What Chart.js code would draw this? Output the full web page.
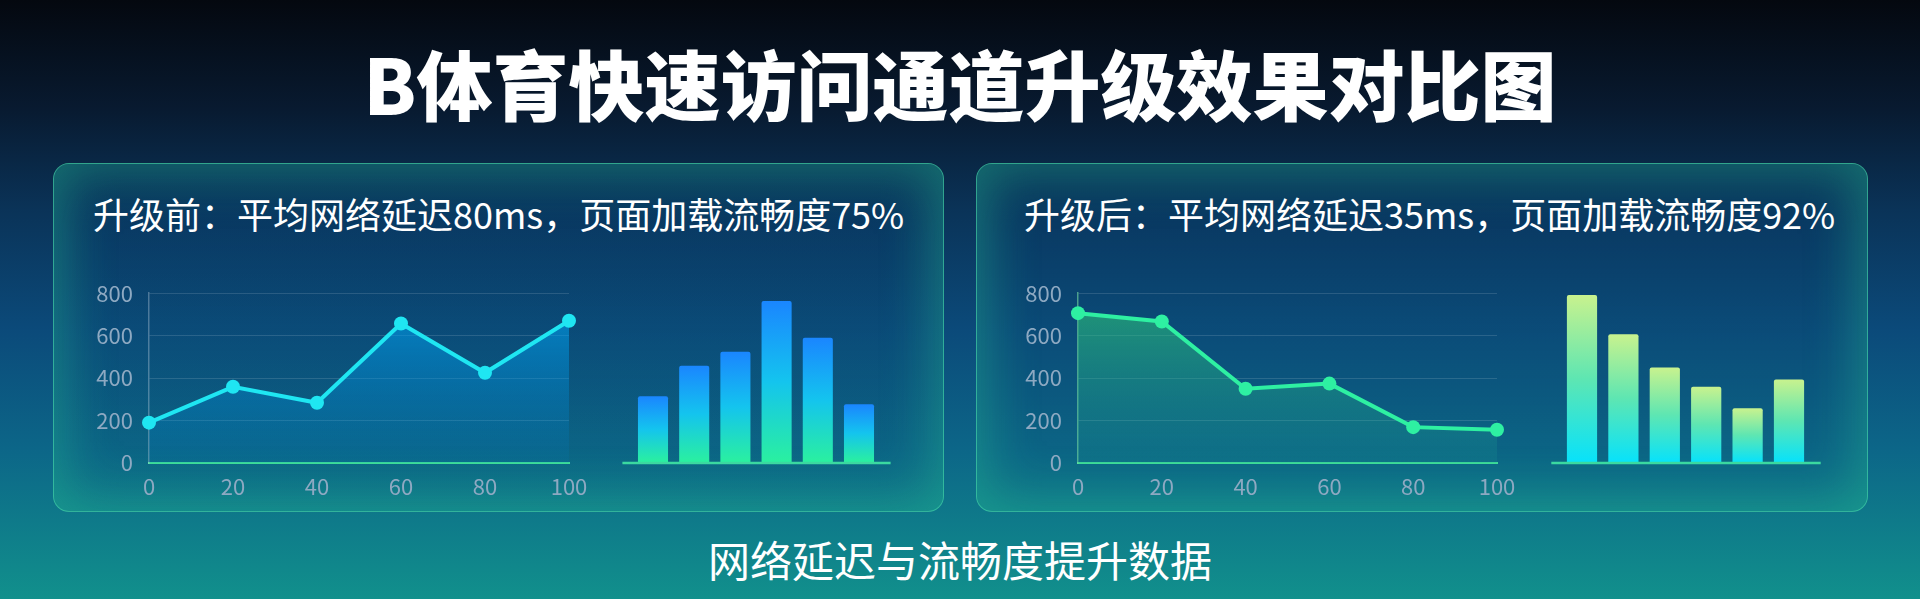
<!DOCTYPE html>
<html lang="zh-CN">
<head>
<meta charset="utf-8">
<title>B体育快速访问通道升级效果对比图</title>
<script src="https://cdn.jsdelivr.net/npm/chart.js@4.4.1/dist/chart.umd.min.js"></script>
<style>
    html, body { margin: 0; padding: 0; }
    body {
        width: 1920px; height: 599px; overflow: hidden; position: relative;
        font-family: 'Noto Sans CJK SC', 'Noto Sans', sans-serif;
        background: linear-gradient(180deg, #04080f 0%, #081a30 18%, #0a3358 35%, #0b4a7a 55%, #0c6688 75%, #11908c 100%);
    }
    .title {
        position: absolute; left: 0; top: 44px; width: 1920px; text-align: center;
        font-size: 76px; line-height: 76px; font-weight: 900; color: #fff;
    }
    .panel {
        position: absolute; top: 163px; height: 349px; box-sizing: border-box;
        border-radius: 16px;
        border: 1.5px solid rgba(70, 225, 170, 0.65);
        background: linear-gradient(180deg, rgba(8, 60, 110, 0.4), rgba(15, 110, 130, 0.25));
        box-shadow: inset 0 0 50px 10px rgba(40, 200, 150, 0.42);
    }
    .panel-title {
        position: absolute; top: 31px; font-size: 36px; line-height: 36px;
        color: #fff; white-space: nowrap;
    }
    .box { position: absolute; }
    .caption {
        position: absolute; left: 0; width: 1920px; top: 538px; text-align: center;
        font-size: 42px; line-height: 42px; color: #fff;
    }
</style>
</head>
<body>
<div class="title">B体育快速访问通道升级效果对比图</div>

<div class="panel" style="left:53px; width:891px;">
    <div class="panel-title" style="left:39px;">升级前：平均网络延迟80ms，页面加载流畅度75%</div>
</div>
<div class="panel" style="left:976px; width:892px;">
    <div class="panel-title" style="left:47px;">升级后：平均网络延迟35ms，页面加载流畅度92%</div>
</div>

<div class="box" style="left:60px; top:264px; width:539px; height:241px;"><canvas id="beforeLine"></canvas></div>
<div class="box" style="left:612px; top:283px; width:290px; height:189px;"><canvas id="beforeBar"></canvas></div>
<div class="box" style="left:989px; top:264px; width:538px; height:241px;"><canvas id="afterLine"></canvas></div>
<div class="box" style="left:1541px; top:283px; width:290px; height:189px;"><canvas id="afterBar"></canvas></div>

<div class="caption">网络延迟与流畅度提升数据</div>

<script>
const xLabels = ['0', '20', '40', '60', '80', '100'];
const beforeLatency = [190, 359, 284, 657, 425, 670];
const afterLatency = [706, 667, 350, 374, 169, 157];
const barLabels = ['1', '2', '3', '4', '5', '6'];
const beforeBars = [311, 456, 522, 762, 588, 273];
const afterBars = [790, 605, 447, 356, 254, 391];
const yMax = 800;
const yStep = 200;

const tickFont = { family: "'Noto Sans CJK SC', 'Noto Sans', sans-serif", size: 22 };
const tickColor = '#8ea9c2';

// green base line under the bar charts, a bit wider than the bars
const baseLine = {
    id: 'baseLine',
    afterDatasetsDraw(chart) {
        const ctx = chart.ctx;
        const area = chart.chartArea;
        const y = chart.scales.y.getPixelForValue(0) + 1;
        ctx.save();
        ctx.strokeStyle = '#3bd9a0';
        ctx.lineWidth = 2.5;
        ctx.beginPath();
        ctx.moveTo(area.left - 10, y);
        ctx.lineTo(area.right + 11, y);
        ctx.stroke();
        ctx.restore();
    }
};

function lineChart(id, data, color, fillTop, fillBottom, yBorder) {
    return new Chart(document.getElementById(id), {
        type: 'line',
        data: {
            labels: xLabels,
            datasets: [{
                data: data,
                borderColor: color,
                borderWidth: 4,
                tension: 0,
                pointRadius: 7,
                pointBackgroundColor: color,
                pointBorderWidth: 0,
                clip: false,
                fill: 'origin',
                backgroundColor: function(c) {
                    const a = c.chart.chartArea;
                    if (!a) return 'transparent';
                    const g = c.chart.ctx.createLinearGradient(0, a.top, 0, a.bottom);
                    g.addColorStop(0, fillTop);
                    g.addColorStop(1, fillBottom);
                    return g;
                }
            }]
        },
        options: {
            responsive: true,
            maintainAspectRatio: false,
            animation: false,
            // y tick padding (16) + half label height already keeps the top at 293
            layout: { padding: { top: 0, right: 30, left: 0, bottom: 0 } },
            plugins: { legend: { display: false }, tooltip: { enabled: false } },
            scales: {
                x: {
                    offset: false,
                    grid: { display: false, drawTicks: false },
                    border: { display: true, color: '#3ddc97', width: 2 },
                    ticks: { color: tickColor, font: tickFont, padding: 10, maxRotation: 0 },
                    afterFit: function(s) { s.height = 42; }
                },
                y: {
                    min: 0, max: yMax,
                    grid: { color: 'rgba(255,255,255,0.13)', drawTicks: false },
                    border: { display: true, color: yBorder, width: 1.5 },
                    ticks: { stepSize: yStep, color: tickColor, font: tickFont, padding: 16 },
                    afterFit: function(s) { s.width = 89; }
                }
            }
        }
    });
}

function barChart(id, data, stops, padL, padR) {
    return new Chart(document.getElementById(id), {
        type: 'bar',
        data: {
            labels: barLabels,
            datasets: [{
                data: data,
                barPercentage: 0.73,
                categoryPercentage: 1,
                borderRadius: 2,
                backgroundColor: function(c) {
                    const chart = c.chart;
                    if (!chart.chartArea || c.raw == null) return stops[0];
                    const top = chart.scales.y.getPixelForValue(c.raw);
                    const base = chart.scales.y.getPixelForValue(0);
                    const g = chart.ctx.createLinearGradient(0, top, 0, base);
                    g.addColorStop(0, stops[0]);
                    g.addColorStop(0.5, stops[1]);
                    g.addColorStop(1, stops[2]);
                    return g;
                }
            }]
        },
        options: {
            responsive: true,
            maintainAspectRatio: false,
            animation: false,
            layout: { padding: { top: 10, bottom: 10, left: padL, right: padR } },
            plugins: { legend: { display: false }, tooltip: { enabled: false } },
            scales: {
                x: { display: false },
                y: { display: false, min: 0, max: yMax }
            }
        },
        plugins: [baseLine]
    });
}

lineChart('beforeLine', beforeLatency, '#1fe6f2', 'rgba(0,175,255,0.65)', 'rgba(0,130,210,0.1)', 'rgba(200,215,230,0.35)');
lineChart('afterLine', afterLatency, '#2ef0a2', 'rgba(50,210,120,0.62)', 'rgba(30,160,150,0.15)', 'rgba(120,220,160,0.6)');
barChart('beforeBar', beforeBars, ['#1a86ff', '#14c4ee', '#2af0a0'], 20.4, 22.4);
barChart('afterBar', afterBars, ['#c8f28e', '#5ee6b2', '#08e2fa'], 20.3, 21.3);
</script>
</body>
</html>
